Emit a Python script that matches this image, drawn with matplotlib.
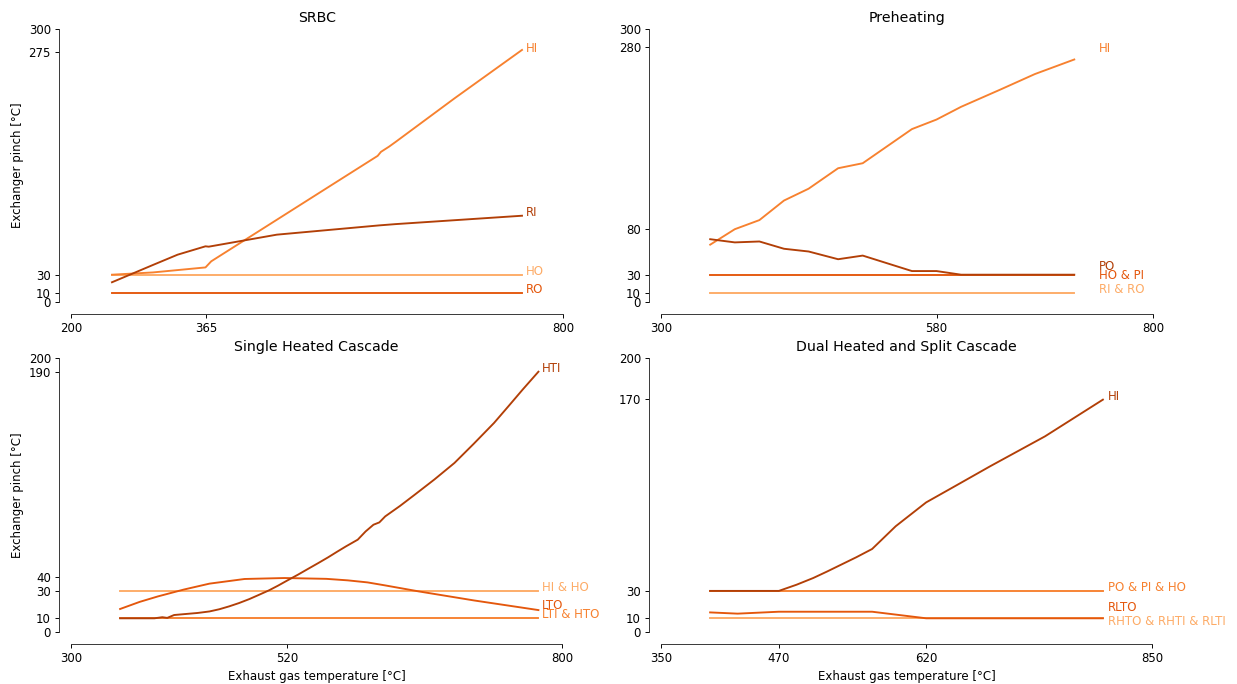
import matplotlib
matplotlib.use("Agg")
import matplotlib.pyplot as plt

# colours (light -> dark)
c_light = '#fdab66'
c_mid = '#f7812f'
c_deep = '#e4570c'
c_dark = '#b23f07'

# SRBC
srbc_hi_x = [250, 300, 364, 371, 450, 520, 574, 578, 588, 596, 668, 750]
srbc_hi_y = [30, 32.5, 38, 44.7, 89.8, 129.8, 160.6, 165, 170.8, 176, 224, 277]
srbc_ri_x = [250, 301, 330, 364, 368, 451, 576, 596, 750]
srbc_ri_y = [21.7, 41.1, 52, 61.2, 60.8, 74, 84.2, 85.6, 94.8]
srbc_flat_x = [250, 750]
srbc_ho_y = [30, 30]
srbc_ro_y = [10, 10]

# Preheating
pre_x = [350, 375, 400, 425, 450, 480, 505, 555, 580, 605, 645, 680, 720]
pre_hi = [63, 80, 90, 111.5, 124.5, 147, 152.5, 190, 200.5, 214.5, 233.5, 250.5, 266.5]
pre_po = [69, 65.5, 66.5, 58.5, 55.5, 47, 51, 34, 34, 30, 30, 30, 30]
pre_flat_x = [350, 720]
pre_hopi = [30, 30]
pre_riro = [10, 10]

# Single Heated Cascade
shc_hti_x = [350, 385, 393, 398, 405, 429, 441, 451, 461, 471, 481.5, 491, 501.6, 511,
             520.5, 531, 541.7, 552, 561.8, 571, 580, 592, 600, 608, 614, 620, 635,
             650, 670, 690.5, 710, 730.8, 745, 760, 776]
shc_hti_y = [10, 10, 10.8, 10.3, 12.4, 13.9, 15, 16.6, 18.7, 21.1, 24, 27, 30.4, 33.9,
             37.7, 41.8, 46.2, 50.4, 54.5, 58.6, 62.5, 67.4, 73.4, 78.3, 80, 84.4, 92,
             100.2, 111.3, 123.4, 137.3, 152.6, 164.4, 177, 190]
shc_lto_x = [350, 370, 388.6, 415, 441, 476.8, 517.5, 560, 581.8, 602, 620, 654.4, 710.7, 776]
shc_lto_y = [16.8, 22, 26, 31, 35.3, 38.7, 39.4, 38.8, 37.7, 36.2, 34, 29.6, 23, 16]
shc_flat_x = [350, 776]
shc_hiho = [30, 30]
shc_ltihto = [10, 10]

# Dual Heated and Split Cascade
dhc_hi_x = [400, 470, 488, 505, 519, 533, 549, 565, 589, 620, 649, 685, 741, 800]
dhc_hi_y = [30, 30, 34.5, 39.4, 44.1, 49, 54.6, 60.6, 77.2, 94.6, 106.3, 120.9, 142.8, 169.6]
dhc_rlto_x = [400, 428, 470, 565, 620, 800]
dhc_rlto_y = [14.3, 13.4, 14.8, 14.8, 10, 10]
dhc_flat_x = [400, 800]
dhc_popiho = [30, 30]
dhc_rhto = [10, 10]

fig = plt.figure(figsize=(1237 / 85, 684 / 85), dpi=85)

# left, bottom, width, height in figure fraction
pos = {
    'srbc': [71 / 1237, 1 - 302 / 684, 492 / 1237, 273 / 684],
    'pre': [661 / 1237, 1 - 302 / 684, 492 / 1237, 273 / 684],
    'shc': [71 / 1237, 1 - 632 / 684, 491 / 1237, 274 / 684],
    'dhc': [661 / 1237, 1 - 632 / 684, 491 / 1237, 274 / 684],
}


def style(ax, xlim, xticks, ylim, yticks, title):
    ax.set_xlim(xlim)
    ax.set_ylim(ylim)
    ax.set_xticks(xticks)
    ax.set_yticks(yticks)
    ax.spines['top'].set_visible(False)
    ax.spines['right'].set_visible(False)
    ax.spines['left'].set_position(('outward', 10))
    ax.spines['bottom'].set_position(('outward', 10))
    ax.spines['left'].set_color('#333333')
    ax.spines['bottom'].set_color('#333333')
    ax.set_title(title, fontsize=12)


lw = 1.6

# SRBC
ax = fig.add_axes(pos['srbc'])
ax.plot(srbc_flat_x, srbc_ho_y, color=c_light, lw=lw)
ax.plot(srbc_hi_x, srbc_hi_y, color=c_mid, lw=lw)
ax.plot(srbc_flat_x, srbc_ro_y, color=c_deep, lw=lw)
ax.plot(srbc_ri_x, srbc_ri_y, color=c_dark, lw=lw)
ax.text(755, 275, 'HI', color=c_mid, fontsize=10)
ax.text(755, 95, 'RI', color=c_dark, fontsize=10)
ax.text(755, 30, 'HO', color=c_light, fontsize=10)
ax.text(755, 10, 'RO', color=c_deep, fontsize=10)
style(ax, (200, 800), [200, 365, 800], (0, 300), [0, 10, 30, 275, 300], 'SRBC')
ax.set_ylabel('Exchanger pinch [°C]')

# Preheating
ax = fig.add_axes(pos['pre'])
ax.plot(pre_x, pre_hi, color=c_mid, lw=lw)
ax.plot(pre_flat_x, pre_riro, color=c_light, lw=lw)
ax.plot(pre_flat_x, pre_hopi, color=c_deep, lw=lw)
ax.plot(pre_x, pre_po, color=c_dark, lw=lw)
ax.text(745, 275, 'HI', color=c_mid, fontsize=10)
ax.text(745, 35, 'PO', color=c_dark, fontsize=10)
ax.text(745, 25, 'HO & PI', color=c_deep, fontsize=10)
ax.text(745, 10, 'RI & RO', color=c_light, fontsize=10)
style(ax, (300, 800), [300, 580, 800], (0, 300), [0, 10, 30, 80, 280, 300], 'Preheating')

# Single Heated Cascade
ax = fig.add_axes(pos['shc'])
ax.plot(shc_flat_x, shc_hiho, color=c_light, lw=lw)
ax.plot(shc_flat_x, shc_ltihto, color=c_mid, lw=lw)
ax.plot(shc_lto_x, shc_lto_y, color=c_deep, lw=lw)
ax.plot(shc_hti_x, shc_hti_y, color=c_dark, lw=lw)
ax.text(780, 190, 'HTI', color=c_dark, fontsize=10)
ax.text(780, 30, 'HI & HO', color=c_light, fontsize=10)
ax.text(780, 16.5, 'LTO', color=c_deep, fontsize=10)
ax.text(780, 10, 'LTI & HTO', color=c_mid, fontsize=10)
style(ax, (300, 800), [300, 520, 800], (0, 200), [0, 10, 30, 40, 190, 200],
      'Single Heated Cascade')
ax.set_ylabel('Exchanger pinch [°C]')
ax.set_xlabel('Exhaust gas temperature [°C]')

# Dual Heated and Split Cascade
ax = fig.add_axes(pos['dhc'])
ax.plot(dhc_flat_x, dhc_rhto, color=c_light, lw=lw)
ax.plot(dhc_flat_x, dhc_popiho, color=c_mid, lw=lw)
ax.plot(dhc_rlto_x, dhc_rlto_y, color=c_deep, lw=lw)
ax.plot(dhc_hi_x, dhc_hi_y, color=c_dark, lw=lw)
ax.text(805, 169.6, 'HI', color=c_dark, fontsize=10)
ax.text(805, 30, 'PO & PI & HO', color=c_mid, fontsize=10)
ax.text(805, 15, 'RLTO', color=c_deep, fontsize=10)
ax.text(805, 5, 'RHTO & RHTI & RLTI', color=c_light, fontsize=10)
style(ax, (350, 850), [350, 470, 620, 850], (0, 200), [0, 10, 30, 170, 200],
      'Dual Heated and Split Cascade')
ax.set_xlabel('Exhaust gas temperature [°C]')

fig.savefig('out.png', dpi=85)
